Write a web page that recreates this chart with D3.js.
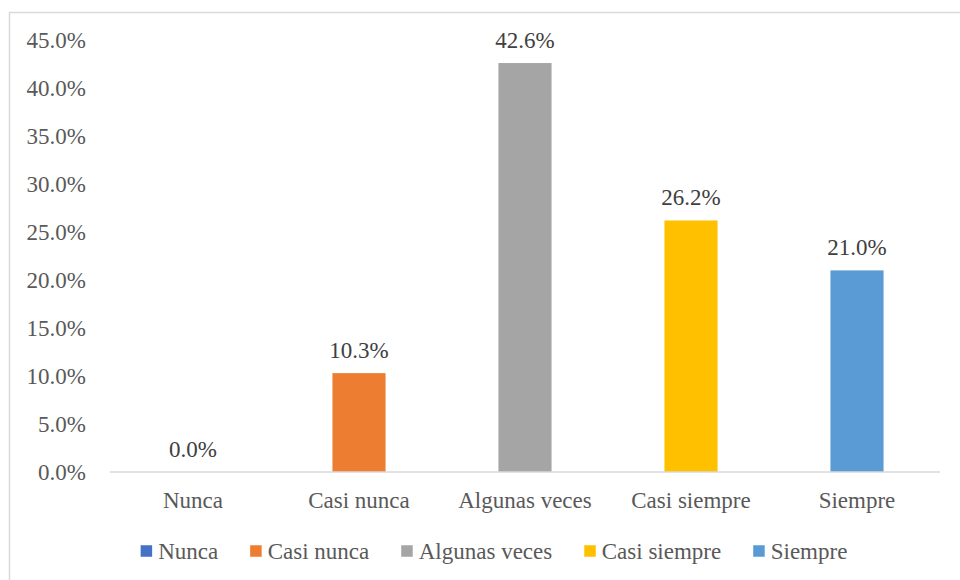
<!DOCTYPE html>
<html>
<head>
<meta charset="utf-8">
<script src="https://cdn.jsdelivr.net/npm/d3@7/dist/d3.min.js"></script>
<style>
  html, body { margin: 0; padding: 0; background: #fff; }
  svg text { font-family: "Times New Roman", "Liberation Serif", Tinos, "DejaVu Serif", serif; }
</style>
</head>
<body>
<svg id="chart" width="960" height="580"></svg>
<script>
// Survey response shares (percent)
const categories = ["Nunca", "Casi nunca", "Algunas veces", "Casi siempre", "Siempre"];
const values = [0.0, 10.3, 42.6, 26.2, 21.0];
const colors = ["#4472C4", "#ED7D31", "#A5A5A5", "#FFC000", "#5B9BD5"];
const yTicks = [0, 5, 10, 15, 20, 25, 30, 35, 40, 45];

const svg = d3.select("#chart");
const fontSize = 23;
const axisText = "#595959";
const labelText = "#404040";

// Outer frame
svg.append("rect")
  .attr("x", 9.5).attr("y", 12.5)
  .attr("width", 1000).attr("height", 600)
  .attr("fill", "#fff").attr("stroke", "#d9d9d9").attr("stroke-width", 1.5);

const plot = { left: 110, right: 940, top: 40, bottom: 472 };

const x = d3.scaleBand()
  .domain(categories)
  .range([plot.left, plot.right])
  .paddingInner(0.68)
  .paddingOuter(0.34);

const y = d3.scaleLinear()
  .domain([0, 45])
  .range([plot.bottom, plot.top]);

// Y axis (labels only)
const yAxis = svg.append("g")
  .attr("transform", `translate(${plot.left - 24},0)`)
  .call(d3.axisLeft(y).tickValues(yTicks).tickSize(0).tickPadding(0)
    .tickFormat(d => d.toFixed(1) + "%"));
yAxis.attr("font-family", null);
yAxis.select(".domain").remove();
yAxis.selectAll("text")
  .attr("font-size", fontSize)
  .attr("fill", axisText);

// Bars
svg.append("g").selectAll("rect")
  .data(values)
  .join("rect")
  .attr("x", (d, i) => x(categories[i]))
  .attr("y", d => y(d))
  .attr("width", x.bandwidth())
  .attr("height", d => y(0) - y(d))
  .attr("fill", (d, i) => colors[i]);

// X axis baseline and category labels
const xAxis = svg.append("g")
  .attr("transform", `translate(0,${plot.bottom})`)
  .call(d3.axisBottom(x).tickSize(0).tickPadding(20));
xAxis.attr("font-family", null);
xAxis.select(".domain")
  .attr("stroke", "#d9d9d9").attr("stroke-width", 1.5)
  .attr("d", `M${plot.left},0H${plot.right}`);
xAxis.selectAll("text")
  .attr("font-size", fontSize)
  .attr("fill", axisText);

// Value labels
svg.append("g").selectAll("text")
  .data(values)
  .join("text")
  .attr("x", (d, i) => x(categories[i]) + x.bandwidth() / 2)
  .attr("y", d => y(d) - 15)
  .attr("text-anchor", "middle")
  .attr("font-size", fontSize)
  .attr("fill", labelText)
  .text(d => d.toFixed(1) + "%");

// Legend
const legend = svg.append("g");
const sw = 11.5, gapText = 6, gapItem = 32;
const items = legend.selectAll("g")
  .data(categories)
  .join("g");
items.append("rect")
  .attr("width", sw).attr("height", sw)
  .attr("y", -sw / 2)
  .attr("fill", (d, i) => colors[i]);
items.append("text")
  .attr("x", sw + gapText)
  .attr("dy", "0.35em")
  .attr("font-size", fontSize)
  .attr("fill", axisText)
  .text(d => d);
let cx = 0;
items.each(function () {
  const w = this.getBBox().width;
  d3.select(this).attr("transform", `translate(${cx},0)`);
  cx += w + gapItem;
});
const totalW = cx - gapItem;
legend.attr("transform", `translate(${494 - totalW / 2},551)`);
</script>
</body>
</html>
